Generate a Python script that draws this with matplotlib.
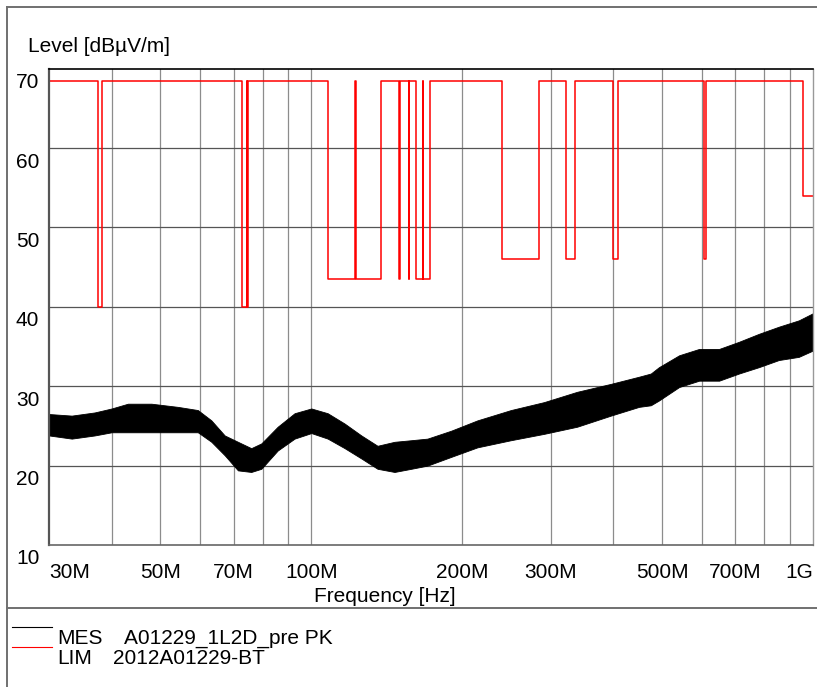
import numpy as np
import matplotlib
matplotlib.use("Agg")
import matplotlib.pyplot as plt
from matplotlib.transforms import ScaledTranslation
from matplotlib.lines import Line2D

plt.rcParams['font.family'] = ['Liberation Sans', 'DejaVu Sans']

# measured trace envelope (MHz, dBuV/m)
mes_f = [30, 33.3, 37, 40, 43.1, 48, 54.2, 59.4, 63.2, 67.2, 71.4, 75.9, 79.5,
         85.7, 92.6, 100, 107.8, 116.5, 125.8, 135.5, 146.5, 158.2, 170.4, 190,
         214.3, 250, 291, 338.8, 395.5, 450, 475, 493, 541, 593, 650, 712, 780,
         855, 937, 1000]
mes_hi = [26.5, 26.3, 26.7, 27.2, 27.8, 27.8, 27.4, 27.0, 25.7, 23.8, 23.0, 22.2, 22.8,
          24.9, 26.6, 27.2, 26.6, 25.3, 23.8, 22.5, 23.0, 23.2, 23.4, 24.4,
          25.7, 27.0, 28.0, 29.3, 30.3, 31.2, 31.6, 32.4, 33.9, 34.7, 34.7, 35.6, 36.6,
          37.5, 38.3, 39.2]
mes_lo = [23.8, 23.4, 23.8, 24.2, 24.2, 24.2, 24.2, 24.2, 23.0, 21.3, 19.4, 19.2, 19.6,
          21.9, 23.4, 24.1, 23.4, 22.2, 20.9, 19.6, 19.2, 19.6, 20.0, 21.1,
          22.3, 23.2, 24.0, 24.9, 26.3, 27.4, 27.6, 28.2, 29.9, 30.7, 30.7, 31.6, 32.4,
          33.3, 33.7, 34.5]

# limit line (step, MHz start of each segment, dBuV/m)
lim_f = [30, 37.5, 38.25, 72.9, 74.4, 74.6, 74.9, 107.9, 122.0, 122.9, 137.8,
         149.7, 150.1, 156.5, 156.7, 161.5, 167.0, 167.2, 172.5, 239.6, 283.8,
         321.8, 334.7, 399, 408, 606.6, 611, 956, 1000]
lim_v = [68.5, 40, 68.5, 40, 68.5, 40, 68.5, 43.5, 68.5, 43.5, 68.5,
         43.5, 68.5, 43.5, 68.5, 43.5, 68.5, 43.5, 68.5, 46, 68.5,
         46, 68.5, 46, 68.5, 46, 68.5, 54, 54]

xticks = [30, 50, 70, 100, 200, 300, 500, 700, 1000]
xtick_labels = ['30M', '50M', '70M', '100M', '200M', '300M', '500M', '700M', '1G']
xgrid = [40, 50, 60, 70, 80, 90, 100, 200, 300, 400, 500, 600, 700, 800, 900]
yticks = [10, 20, 30, 40, 50, 60, 70]

fs = 15

fig = plt.figure(figsize=(8.17, 6.87), dpi=100)
ax = fig.add_axes([49 / 817, 1 - 545 / 687, 764 / 817, (545 - 68.7) / 687])

ax.fill_between(np.array(mes_f) * 1e6, mes_lo, mes_hi, color='black', lw=0.6)
ax.plot(np.array(lim_f) * 1e6, lim_v, color='#ff0000', lw=1.1, drawstyle='steps-post')

ax.set_xscale('log')
ax.set_xlim(30e6, 1e9)
ax.set_ylim(10, 70)

for g in xgrid:
    ax.axvline(g * 1e6, color='#8c8c8c', lw=0.9, zorder=0)
for g in yticks[1:-1]:
    ax.axhline(g, color='#555555', lw=0.9, zorder=0)

ax.set_xticks([t * 1e6 for t in xticks])
ax.set_xticklabels(xtick_labels)
ax.xaxis.set_minor_locator(matplotlib.ticker.NullLocator())
ax.set_yticks(yticks)
ax.tick_params(length=0, labelsize=fs)
ax.tick_params(axis='x', pad=13)
ax.tick_params(axis='y', pad=7)
labs = ax.get_xticklabels()
labs[0].set_horizontalalignment('left')
labs[-1].set_horizontalalignment('right')
for lab in ax.get_yticklabels():
    lab.set_transform(lab.get_transform() + ScaledTranslation(0, -12 / 100, fig.dpi_scale_trans))

ax.spines['left'].set_color('#555555')
ax.spines['left'].set_linewidth(1.6)
ax.spines['top'].set_color('black')
ax.spines['top'].set_linewidth(1.2)
ax.spines['bottom'].set_color('#666666')
ax.spines['bottom'].set_linewidth(1.2)
ax.spines['right'].set_color('#999999')
ax.spines['right'].set_linewidth(1.0)

fig.text(28 / 817, 1 - 46 / 687, 'Level [dBµV/m]', fontsize=fs, va='center', ha='left')
fig.text(385 / 817, 1 - 597 / 687, 'Frequency [Hz]', fontsize=fs, va='center', ha='center')

# outer frame and legend
fc = '#707070'
fig.add_artist(Line2D([7 / 817, 7 / 817], [0, 1 - 6.5 / 687], color=fc, lw=1.4, transform=fig.transFigure))
fig.add_artist(Line2D([7 / 817, 1], [1 - 6.5 / 687, 1 - 6.5 / 687], color=fc, lw=1.4, transform=fig.transFigure))
fig.add_artist(Line2D([7 / 817, 1], [1 - 607.5 / 687, 1 - 607.5 / 687], color=fc, lw=1.4, transform=fig.transFigure))
fig.add_artist(Line2D([12 / 817, 52 / 817], [1 - 627 / 687] * 2, color='black', lw=0.8, transform=fig.transFigure))
fig.add_artist(Line2D([12 / 817, 52 / 817], [1 - 647 / 687] * 2, color='#ff0000', lw=0.8, transform=fig.transFigure))
fig.text(57 / 817, 1 - 638 / 687, 'MES', fontsize=fs, va='center')
fig.text(124 / 817, 1 - 638 / 687, 'A01229_1L2D_pre PK', fontsize=fs, va='center')
fig.text(57 / 817, 1 - 658 / 687, 'LIM', fontsize=fs, va='center')
fig.text(113 / 817, 1 - 658 / 687, '2012A01229-BT', fontsize=fs, va='center')

fig.savefig('out.png', dpi=100)
